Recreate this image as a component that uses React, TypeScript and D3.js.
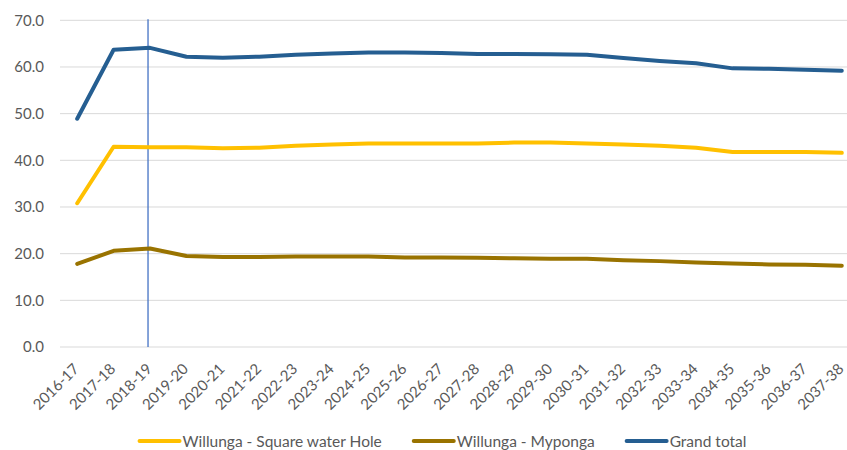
import React, { useEffect, useRef } from "react";
import * as d3 from "d3";

const years = [
  "2016-17", "2017-18", "2018-19", "2019-20", "2020-21", "2021-22",
  "2022-23", "2023-24", "2024-25", "2025-26", "2026-27", "2027-28",
  "2028-29", "2029-30", "2030-31", "2031-32", "2032-33", "2033-34",
  "2034-35", "2035-36", "2036-37", "2037-38",
];

const squareWaterHole = [
  30.8, 42.9, 42.8, 42.8, 42.6, 42.7, 43.1, 43.4, 43.6, 43.6, 43.6, 43.6,
  43.8, 43.8, 43.6, 43.4, 43.1, 42.7, 41.8, 41.8, 41.8, 41.6,
];

const myponga = [
  17.8, 20.6, 21.1, 19.5, 19.3, 19.3, 19.4, 19.4, 19.4, 19.2, 19.2, 19.1,
  19.0, 18.9, 18.9, 18.6, 18.4, 18.1, 17.9, 17.7, 17.6, 17.4,
];

const grandTotal = [
  48.9, 63.7, 64.1, 62.2, 62.0, 62.2, 62.6, 62.9, 63.1, 63.1, 63.0, 62.8,
  62.8, 62.7, 62.6, 61.9, 61.3, 60.8, 59.7, 59.6, 59.4, 59.2,
];

const yTicks = [0, 10, 20, 30, 40, 50, 60, 70];
const markerYear = "2018-19";

const series = [
  { name: "Willunga - Square water Hole", values: squareWaterHole, color: "#FFC000" },
  { name: "Willunga - Myponga", values: myponga, color: "#997300" },
  { name: "Grand total", values: grandTotal, color: "#255E91" },
];

const App: React.FC = () => {
  const svgRef = useRef<SVGSVGElement | null>(null);

  useEffect(() => {
    const width = 847;
    const height = 450;
    const margin = { top: 20, right: -13, bottom: 103, left: 59 };
    const font = "Lato, 'Open Sans', sans-serif";

    const svg = d3.select(svgRef.current);
    svg.selectAll("*").remove();

    const x = d3
      .scaleBand<string>()
      .domain(years)
      .range([margin.left, width - margin.right]);

    const y = d3
      .scaleLinear()
      .domain([0, 70])
      .range([height - margin.bottom, margin.top + 0.3]);

    const cx = (d: string) => (x(d) || 0) + x.bandwidth() / 2;

    // gridlines
    svg
      .append("g")
      .selectAll("line")
      .data(yTicks)
      .join("line")
      .attr("x1", margin.left + 1)
      .attr("x2", width)
      .attr("y1", (d) => y(d))
      .attr("y2", (d) => y(d))
      .attr("stroke", "#D9D9D9")
      .attr("stroke-width", 1);

    // y labels
    svg
      .append("g")
      .selectAll("text")
      .data(yTicks)
      .join("text")
      .attr("x", 44)
      .attr("y", (d) => y(d))
      .attr("dy", "0.36em")
      .attr("text-anchor", "end")
      .attr("fill", "#595959")
      .style("font-family", font)
      .style("font-size", "15px")
      .text((d) => d3.format(".1f")(d));

    // x labels
    svg
      .append("g")
      .selectAll("text")
      .data(years)
      .join("text")
      .attr("transform", (d) => `translate(${cx(d) - 1},${y(0) + 19}) rotate(-45)`)
      .attr("dy", "0.36em")
      .attr("text-anchor", "end")
      .attr("fill", "#595959")
      .style("font-family", font)
      .style("font-size", "15px")
      .text((d) => d);

    // marker line
    svg
      .append("line")
      .attr("x1", cx(markerYear) - 2)
      .attr("x2", cx(markerYear) - 2)
      .attr("y1", y(70) - 1)
      .attr("y2", y(0))
      .attr("stroke", "#4472C4")
      .attr("stroke-width", 1.3);

    const line = d3
      .line<number>()
      .x((_, i) => cx(years[i]))
      .y((d) => y(d));

    series.forEach((s) => {
      svg
        .append("path")
        .datum(s.values)
        .attr("fill", "none")
        .attr("stroke", s.color)
        .attr("stroke-width", 4)
        .attr("stroke-linejoin", "round")
        .attr("stroke-linecap", "round")
        .attr("d", line);
    });

    // legend
    const legend = svg.append("g");
    const swatch = 40;
    const gap = 32;
    const items = series.map((s) => {
      const g = legend.append("g");
      g.append("line")
        .attr("x1", 0)
        .attr("x2", swatch)
        .attr("y1", 0)
        .attr("y2", 0)
        .attr("stroke", s.color)
        .attr("stroke-width", 4)
        .attr("stroke-linecap", "round");
      const t = g
        .append("text")
        .attr("x", swatch + 3)
        .attr("dy", "0.36em")
        .attr("fill", "#595959")
        .style("font-family", font)
        .style("font-size", "15.5px")
        .text(s.name);
      const w = (t.node() as SVGTextElement).getComputedTextLength();
      return { g, w: swatch + 3 + w };
    });
    const total = d3.sum(items, (d) => d.w) + gap * (items.length - 1);
    let pos = 443 - total / 2;
    items.forEach((it) => {
      it.g.attr("transform", `translate(${pos},441)`);
      pos += it.w + gap;
    });
  }, []);

  return (
    <svg
      ref={svgRef}
      width={847}
      height={450}
      style={{ position: "absolute", left: 0, top: 0, background: "#fff" }}
    />
  );
};

export default App;
